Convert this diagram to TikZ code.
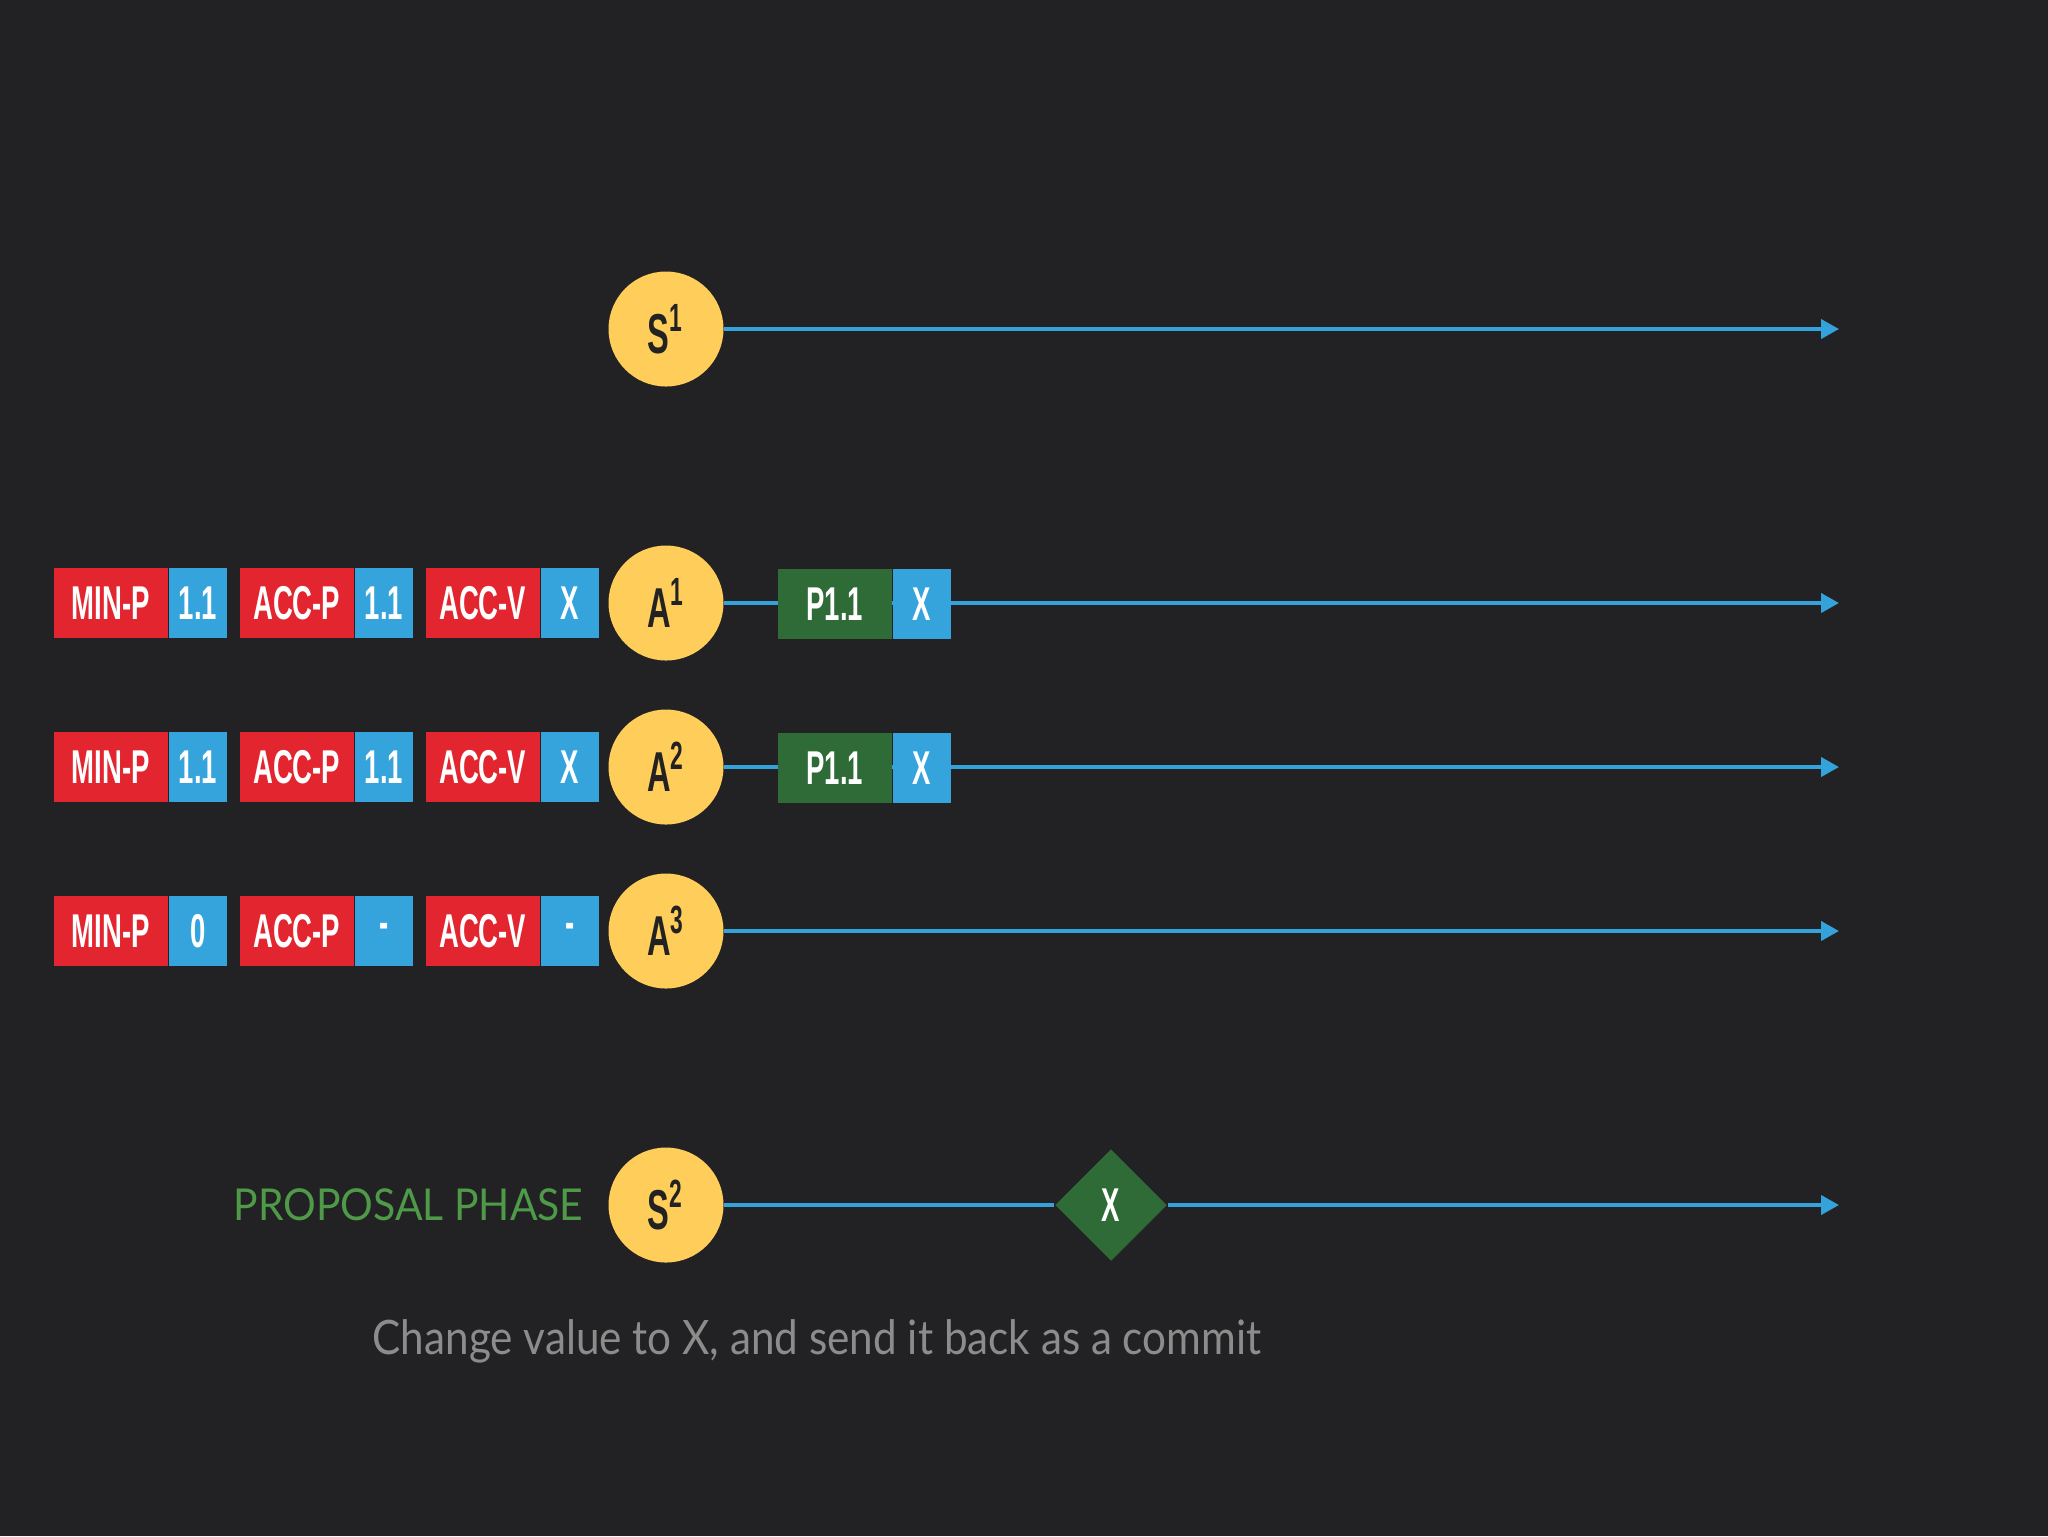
\documentclass[tikz,border=0pt]{standalone}
\usepackage{fontspec}
\usetikzlibrary{arrows.meta,shapes.geometric}
\newfontfamily\condfont[FakeStretch=0.58]{Liberation Sans}
\newfontfamily\capfont[FakeStretch=0.89]{Lato}
\newfontfamily\phasefont[FakeStretch=0.93]{Lato}
\definecolor{bgc}{HTML}{222224}
\definecolor{cyel}{HTML}{FECD5A}
\definecolor{cred}{HTML}{E3252F}
\definecolor{cblue}{HTML}{35A4DC}
\definecolor{cgreen}{HTML}{2F6B36}
\definecolor{cline}{HTML}{34A3DB}
\definecolor{cphase}{HTML}{4E9A48}
\definecolor{ccap}{HTML}{8C8C8C}
\definecolor{cdark}{HTML}{222222}
\begin{document}
\begin{tikzpicture}[x=0.1mm,y=-0.1mm,
  lab/.style={rectangle, inner sep=0pt, minimum height=7mm, text=white, anchor=west,
    font=\condfont\bfseries\fontsize{13.5}{14}\selectfont},
  redbox/.style={lab, fill=cred, minimum width=11.4mm},
  bluebox/.style={lab, fill=cblue, minimum width=5.8mm},
  greenbox/.style={lab, fill=cgreen, minimum width=11.4mm},
  actor/.style={circle, fill=cyel, minimum size=11.5mm, inner sep=0pt, text=cdark,
    font=\condfont\fontsize{16}{17}\selectfont\bfseries},
  valdiamond/.style={diamond, fill=cgreen, minimum width=11.2mm, minimum height=11.2mm,
    aspect=1, inner sep=0pt, text=white, font=\condfont\bfseries\fontsize{13.5}{14}\selectfont},
  timeline/.style={draw=cline, line width=0.4mm, -{Triangle[length=1.8mm,width=1.9mm]}},
  plainline/.style={draw=cline, line width=0.4mm}
]
\useasboundingbox[fill=bgc] (0,0) rectangle (2048,1536);

% actors
\node[actor] (s1) at (666,329) {S\textsuperscript{1}};
\node[actor] (a1) at (666,603) {A\textsuperscript{1}};
\node[actor] (a2) at (666,767) {A\textsuperscript{2}};
\node[actor] (a3) at (666,931) {A\textsuperscript{3}};
\node[actor] (s2) at (666,1205) {S\textsuperscript{2}};

% end points of timelines
\coordinate (s1end) at (1839,329);
\coordinate (a1end) at (1839,603);
\coordinate (a2end) at (1839,767);
\coordinate (a3end) at (1839,931);
\coordinate (s2end) at (1839,1205);

% diamond on S2 timeline
\node[valdiamond] (dx) at (1111,1205) {X};

% timelines
\path[timeline] (s1) -- (s1end);
\path[timeline] (a1) -- (a1end);
\path[timeline] (a2) -- (a2end);
\path[timeline] (a3) -- (a3end);
\path[plainline] (s2) -- (dx);
\path[timeline] (dx) -- (s2end);

% state boxes, rows A1..A3
\foreach \r/\y/\va/\vb/\vc in {1/603/1.1/1.1/X, 2/767/1.1/1.1/X, 3/931/0/-/-}{
  \node[redbox] (minp\r) at (53,\y) {MIN-P};
  \node[bluebox] (minpv\r) at (minp\r.east) {\va};
  \node[redbox] (accp\r) at (239,\y) {ACC-P};
  \node[bluebox] (accpv\r) at (accp\r.east) {\vb};
  \node[redbox] (accv\r) at (425,\y) {ACC-V};
  \node[bluebox] (accvv\r) at (accv\r.east) {\vc};
}

% messages on A1, A2
\node[greenbox] (p1) at (777,604) {P1.1};
\node[bluebox] (p1v) at (p1.east) {X};
\node[greenbox] (p2) at (777,768) {P1.1};
\node[bluebox] (p2v) at (p2.east) {X};

% labels
\node[text=cphase, font=\phasefont\fontsize{12.5}{14}\selectfont, anchor=east, inner sep=0pt] (phase) at (584,1205) {PROPOSAL PHASE};
\node[text=ccap, font=\capfont\fontsize{13.5}{15}\selectfont, anchor=west, inner sep=0pt] (cap) at (372,1341) {Change value to X, and send it back as a commit};
\end{tikzpicture}
\end{document}
